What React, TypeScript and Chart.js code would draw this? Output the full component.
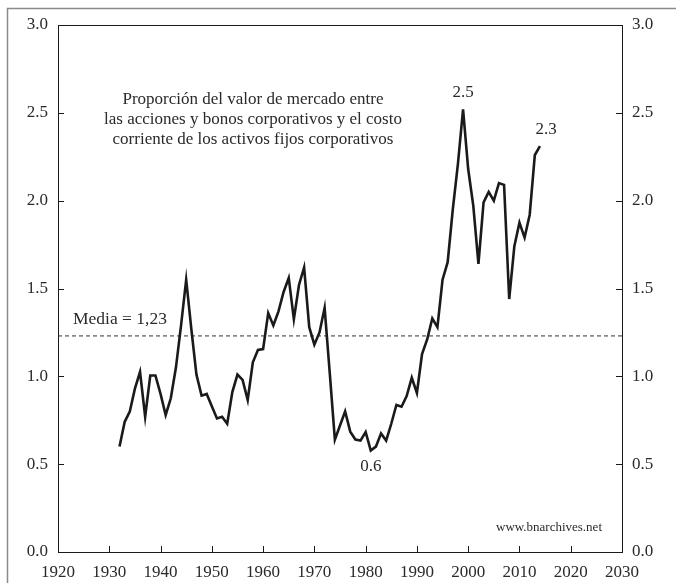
import React, { useEffect, useRef } from "react";
import { Chart, registerables } from "chart.js";

Chart.register(...registerables);

const years: number[] = [
  1932, 1933, 1934, 1935, 1936, 1937, 1938, 1939, 1940, 1941,
  1942, 1943, 1944, 1945, 1946, 1947, 1948, 1949, 1950, 1951,
  1952, 1953, 1954, 1955, 1956, 1957, 1958, 1959, 1960, 1961,
  1962, 1963, 1964, 1965, 1966, 1967, 1968, 1969, 1970, 1971,
  1972, 1973, 1974, 1975, 1976, 1977, 1978, 1979, 1980, 1981,
  1982, 1983, 1984, 1985, 1986, 1987, 1988, 1989, 1990, 1991,
  1992, 1993, 1994, 1995, 1996, 1997, 1998, 1999, 2000, 2001,
  2002, 2003, 2004, 2005, 2006, 2007, 2008, 2009, 2010, 2011,
  2012, 2013, 2014,
];

const ratio: number[] = [
  0.6, 0.74, 0.8, 0.93, 1.025, 0.77, 1.005, 1.005, 0.9, 0.78,
  0.875, 1.05, 1.29, 1.55, 1.27, 1.01, 0.89, 0.9, 0.83, 0.76,
  0.77, 0.73, 0.91, 1.01, 0.98, 0.865, 1.08, 1.15, 1.155, 1.36,
  1.29, 1.37, 1.48, 1.56, 1.325, 1.52, 1.62, 1.28, 1.18, 1.25,
  1.39, 1.02, 0.64, 0.72, 0.8, 0.685, 0.64, 0.634, 0.683, 0.577,
  0.6, 0.675, 0.634, 0.73, 0.837, 0.827, 0.888, 0.992, 0.905, 1.127,
  1.21, 1.33, 1.28, 1.55, 1.65, 1.95, 2.21, 2.52, 2.18, 1.97,
  1.64, 1.99, 2.05, 2.0, 2.1, 2.09, 1.44, 1.74, 1.875, 1.79,
  1.92, 2.26, 2.31,
];

const MEAN = 1.23;
const meanLabel = "Media = 1,23";
const titleLines: string[] = [
  "Proporción del valor de mercado entre",
  "las acciones y bonos corporativos y el costo",
  "corriente de los activos fijos corporativos",
];
const sourceLabel = "www.bnarchives.net";
const peakLabel = "2.5";
const lastLabel = "2.3";
const troughLabel = "0.6";

const X_MIN = 1920;
const X_MAX = 2030;
const Y_MIN = 0;
const Y_MAX = 3;

const FONT = "'Liberation Serif', 'DejaVu Serif', serif";
const INK = "#1a1a1a";
const TEXT = "#2a2a2a";

const decorPlugin = {
  id: "decor",
  afterDraw(chart: any) {
    const { ctx, chartArea, scales } = chart;
    const x = scales.x;
    const y = scales.y;
    ctx.save();
    // outer frame
    ctx.strokeStyle = "#8a8a8a";
    ctx.lineWidth = 1.5;
    ctx.beginPath();
    ctx.moveTo(7.5, 700);
    ctx.lineTo(7.5, 8.5);
    ctx.lineTo(700, 8.5);
    ctx.stroke();

    // plot frame
    ctx.strokeStyle = INK;
    ctx.lineWidth = 1;
    ctx.strokeRect(
      Math.round(chartArea.left) + 0.5,
      Math.round(chartArea.top) + 0.5,
      Math.round(chartArea.right - chartArea.left),
      Math.round(chartArea.bottom - chartArea.top)
    );

    // inward ticks
    const tl = 6;
    ctx.beginPath();
    x.ticks.forEach((t: any) => {
      if (t.value <= X_MIN || t.value >= X_MAX) return;
      const px = Math.round(x.getPixelForValue(t.value)) + 0.5;
      ctx.moveTo(px, chartArea.bottom);
      ctx.lineTo(px, chartArea.bottom - tl);
    });
    y.ticks.forEach((t: any) => {
      if (t.value <= Y_MIN || t.value >= Y_MAX) return;
      const py = Math.round(y.getPixelForValue(t.value)) + 0.5;
      ctx.moveTo(chartArea.left, py);
      ctx.lineTo(chartArea.left + tl, py);
      ctx.moveTo(chartArea.right, py);
      ctx.lineTo(chartArea.right - tl, py);
    });
    ctx.stroke();

    // texts
    ctx.fillStyle = TEXT;
    ctx.textAlign = "center";
    ctx.textBaseline = "middle";
    ctx.font = `17px ${FONT}`;
    titleLines.forEach((line, i) => {
      ctx.fillText(line, 253, 100 + i * 20);
    });

    ctx.font = `17.5px ${FONT}`;
    ctx.textAlign = "left";
    ctx.fillText(meanLabel, 73, y.getPixelForValue(MEAN) - 17);

    ctx.font = `17px ${FONT}`;
    ctx.textAlign = "center";
    ctx.fillText(peakLabel, x.getPixelForValue(1999), y.getPixelForValue(2.52) - 17);
    ctx.fillText(lastLabel, x.getPixelForValue(2015.2), y.getPixelForValue(2.31) - 17);
    ctx.fillText(troughLabel, x.getPixelForValue(1981), y.getPixelForValue(0.577) + 16);

    ctx.font = `13px ${FONT}`;
    ctx.textAlign = "right";
    ctx.fillText(sourceLabel, 602, 528);
    ctx.restore();
  },
};

export default function App() {
  const ref = useRef<HTMLCanvasElement | null>(null);

  useEffect(() => {
    if (!ref.current) return;
    const tickFont = { family: FONT, size: 17 };
    const chart = new Chart(ref.current, {
      type: "line",
      data: {
        datasets: [
          {
            data: years.map((yr, i) => ({ x: yr, y: ratio[i] })),
            borderColor: INK,
            borderWidth: 2.6,
            pointRadius: 0,
            tension: 0,
            yAxisID: "y",
          },
          {
            data: [
              { x: X_MIN, y: MEAN },
              { x: X_MAX, y: MEAN },
            ],
            borderColor: "#333",
            borderWidth: 1,
            borderDash: [4, 3],
            pointRadius: 0,
            yAxisID: "y",
          },
        ],
      },
      options: {
        responsive: false,
        animation: false,
        events: [],
        layout: { padding: { top: 25, left: 0, right: 0, bottom: 0 } },
        plugins: { legend: { display: false }, tooltip: { enabled: false }, title: { display: false } },
        scales: {
          x: {
            type: "linear",
            min: X_MIN,
            max: X_MAX,
            grid: { display: false, drawTicks: false },
            border: { display: false },
            ticks: {
              stepSize: 10,
              autoSkip: false,
              maxRotation: 0,
              padding: 10,
              color: TEXT,
              font: tickFont,
              callback: (v: any) => String(v),
            },
            afterFit: (s: any) => {
              s.height = 31;
            },
          },
          y: {
            type: "linear",
            position: "left",
            min: Y_MIN,
            max: Y_MAX,
            grid: { display: false, drawTicks: false },
            border: { display: false },
            ticks: {
              stepSize: 0.5,
              padding: 10,
              color: TEXT,
              font: tickFont,
              callback: (v: any) => Number(v).toFixed(1),
            },
            afterFit: (s: any) => {
              s.width = 58;
            },
          },
          y2: {
            type: "linear",
            position: "right",
            min: Y_MIN,
            max: Y_MAX,
            grid: { display: false, drawTicks: false },
            border: { display: false },
            ticks: {
              stepSize: 0.5,
              padding: 10,
              color: TEXT,
              font: tickFont,
              callback: (v: any) => Number(v).toFixed(1),
            },
            afterFit: (s: any) => {
              s.width = 54;
            },
          },
        },
      },
      plugins: [decorPlugin],
    });
    return () => chart.destroy();
  }, []);

  return (
    <div style={{ position: "absolute", left: 0, top: 0, width: 676, height: 583, background: "#fff" }}>
      <canvas ref={ref} width={676} height={583} style={{ display: "block" }} />
    </div>
  );
}
